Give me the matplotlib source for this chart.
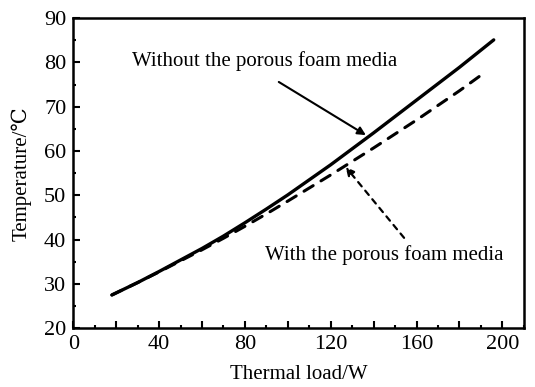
import matplotlib
matplotlib.use('Agg')
import matplotlib.pyplot as plt
from matplotlib.ticker import MultipleLocator, FuncFormatter

# thermal load (W) and temperature (C)
load_without = [18, 30, 40, 50, 60, 70, 80, 90, 100, 120, 140, 160, 180, 196]
temp_without = [27.5, 30.3, 32.8, 35.4, 38.0, 40.8, 43.8, 46.9, 50.1, 56.9, 64.1, 71.5, 78.9, 85.1]
load_with = [18, 30, 40, 50, 60, 70, 80, 90, 100, 120, 140, 160, 180, 192]
temp_with = [27.5, 30.3, 32.7, 35.2, 37.7, 40.3, 43.0, 45.8, 48.7, 54.6, 60.7, 67.0, 73.6, 77.8]

plt.rcParams['font.family'] = ['Liberation Serif', 'DejaVu Serif']

fig, ax = plt.subplots(figsize=(5.35, 3.87), dpi=100)
fig.subplots_adjust(left=0.137, right=0.979, bottom=0.152, top=0.953)

ax.plot(load_without, temp_without, color='black', linewidth=2.4, linestyle='-',
        solid_capstyle='round')
ax.plot(load_with, temp_with, color='black', linewidth=2.2, linestyle=(0, (3.5, 3)),
        dash_capstyle='round')

# labels and pointer arrows
ax.text(89.3, 80.3, 'Without the porous foam media', ha='center', va='center', fontsize=15)
ax.annotate('', xy=(136.4, 63.6), xytext=(95.8, 75.6),
            arrowprops=dict(arrowstyle='-|>', color='black', lw=1.5,
                            shrinkA=0, shrinkB=0, mutation_scale=12))
ax.text(144.9, 36.6, 'With the porous foam media', ha='center', va='center', fontsize=15)
ax.annotate('', xy=(127, 56.4), xytext=(154.2, 40.4),
            arrowprops=dict(arrowstyle='-|>', color='black', lw=1.6, linestyle=(0, (2.5, 2.5)),
                            shrinkA=0, shrinkB=0, mutation_scale=12))

ax.set_xlim(0, 210)
ax.set_ylim(20, 90)
ax.xaxis.set_major_locator(MultipleLocator(20))
ax.xaxis.set_minor_locator(MultipleLocator(10))
ax.xaxis.set_major_formatter(FuncFormatter(lambda v, p: '%d' % v if v % 40 == 0 else ''))
ax.yaxis.set_major_locator(MultipleLocator(10))
ax.yaxis.set_minor_locator(MultipleLocator(5))
ax.tick_params(which='both', direction='in', width=1.5, labelsize=16, top=False, right=False)
ax.tick_params(which='major', length=5, pad=5)
ax.tick_params(which='minor', length=2.5)
for s in ax.spines.values():
    s.set_linewidth(1.8)

ax.set_xlabel('Thermal load/W', fontsize=15, labelpad=8)
ax.set_ylabel('Temperature/\u2103', fontsize=15, labelpad=9)

fig.savefig('out.png', dpi=100)
